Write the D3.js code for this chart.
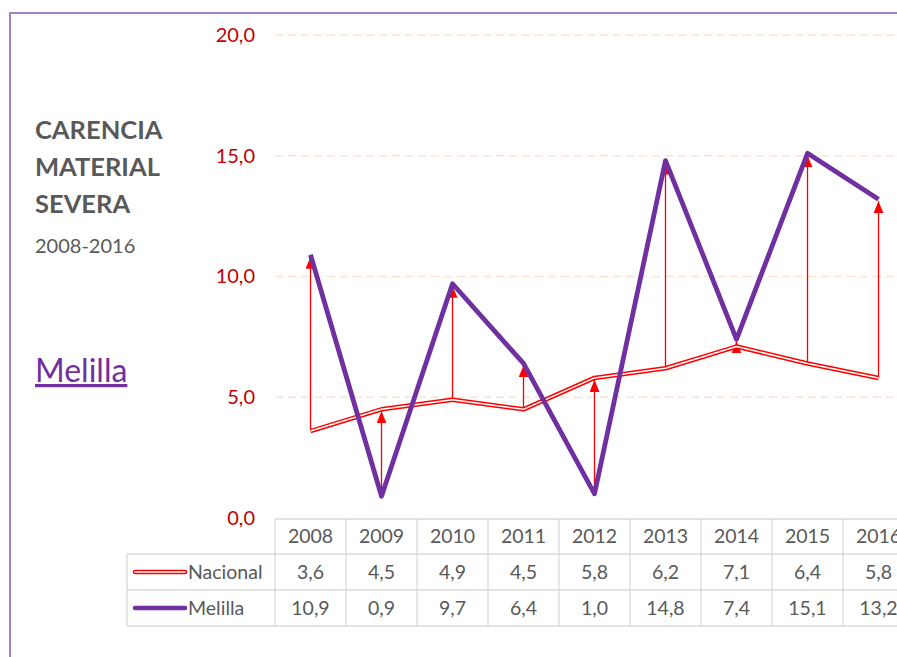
<!DOCTYPE html>
<html>
<head>
<meta charset="utf-8">
<script src="https://cdn.jsdelivr.net/npm/d3@7"></script>
<style>
  body { margin: 0; background: #fff; }
  svg { display: block; font-family: Lato, "Open Sans", sans-serif; }
</style>
</head>
<body>
<svg id="viz"></svg>
<script>
// chart data
var years = ['2008', '2009', '2010', '2011', '2012', '2013', '2014', '2015', '2016'];
var nacional = [3.6, 4.5, 4.9, 4.5, 5.8, 6.2, 7.1, 6.4, 5.8];
var melilla = [10.9, 0.9, 9.7, 6.4, 1.0, 14.8, 7.4, 15.1, 13.2];
var yTicks = [0, 5, 10, 15, 20];

var width = 897, height = 657;
var plotLeft = 275, colW = 71;
var yTop = 35, yBottom = 518;

var fmt = function(v){ return d3.format('.1f')(v).replace('.', ','); };

var svg = d3.select('#viz').attr('width', width).attr('height', height);

// outer frame
svg.append('rect')
   .attr('x', 10).attr('y', 13)
   .attr('width', 900).attr('height', 700)
   .attr('fill', 'none')
   .attr('stroke', '#a27fc9')
   .attr('stroke-width', 2);

var xScale = d3.scaleBand()
               .domain(years)
               .range([plotLeft, plotLeft + colW * years.length]);

var yScale = d3.scaleLinear()
               .domain([0, 20])
               .range([yBottom, yTop]);

// gridlines (dashed)
svg.append('g').selectAll('line')
   .data(yTicks.filter(function(d){ return d > 0; }))
   .enter().append('line')
   .attr('x1', plotLeft).attr('x2', width)
   .attr('y1', function(d){ return yScale(d); })
   .attr('y2', function(d){ return yScale(d); })
   .attr('stroke', '#fbe3d4')
   .attr('stroke-width', 1.5)
   .attr('stroke-dasharray', '8,5');

// y labels
var yAxis = d3.axisLeft(yScale).tickValues(yTicks).tickFormat(fmt).tickSize(0).tickPadding(0);
var ya = svg.append('g').attr('transform', 'translate(255,0)').call(yAxis);
ya.select('.domain').remove();
ya.selectAll('text')
  .attr('fill', '#c00000')
  .attr('font-size', 20)
  .attr('font-family', 'Lato, "Open Sans", sans-serif');

// arrows (from lower to higher value)
var defs = svg.append('defs');
defs.append('marker')
    .attr('id', 'arrow')
    .attr('viewBox', '0 0 10 12')
    .attr('refX', 5).attr('refY', 0)
    .attr('markerWidth', 10).attr('markerHeight', 12)
    .attr('markerUnits', 'userSpaceOnUse')
    .attr('orient', '0')
    .append('path')
    .attr('d', 'M0,12 L5,0 L10,12 Z')
    .attr('fill', '#ff0000');

svg.append('g').selectAll('line')
   .data(years)
   .enter().append('line')
   .attr('x1', function(d){ return xScale(d) + xScale.bandwidth() / 2; })
   .attr('x2', function(d){ return xScale(d) + xScale.bandwidth() / 2; })
   .attr('y1', function(d, i){ return yScale(Math.min(nacional[i], melilla[i])); })
   .attr('y2', function(d, i){ return yScale(Math.max(nacional[i], melilla[i])) + 2; })
   .attr('stroke', '#ff0000')
   .attr('stroke-width', 1.3)
   .attr('marker-end', 'url(#arrow)');

var line = d3.line()
             .x(function(d, i){ return xScale(years[i]) + xScale.bandwidth() / 2; })
             .y(function(d){ return yScale(d); });

// Nacional: double line
svg.append('path').datum(nacional)
   .attr('d', line).attr('fill', 'none')
   .attr('stroke', '#ff0000').attr('stroke-width', 4.5)
   .attr('stroke-linejoin', 'round');
svg.append('path').datum(nacional)
   .attr('d', line).attr('fill', 'none')
   .attr('stroke', '#ffffff').attr('stroke-width', 1.5)
   .attr('stroke-linejoin', 'round');

// Melilla
svg.append('path').datum(melilla)
   .attr('d', line).attr('fill', 'none')
   .attr('stroke', '#7030a0').attr('stroke-width', 4.8)
   .attr('stroke-linejoin', 'round');

// data table
var rowTop = 519, rowH = [35, 36, 36];
var tableLeft = 127;
var grid = svg.append('g').attr('stroke', '#d9d9d9').attr('stroke-width', 1.3);
var r1 = rowTop + rowH[0], r2 = r1 + rowH[1], r3 = r2 + rowH[2];
grid.append('line').attr('x1', plotLeft).attr('x2', width).attr('y1', rowTop).attr('y2', rowTop);
[r1, r2, r3].forEach(function(y){
  grid.append('line').attr('x1', tableLeft).attr('x2', width).attr('y1', y).attr('y2', y);
});
grid.append('line').attr('x1', tableLeft).attr('x2', tableLeft).attr('y1', r1).attr('y2', r3);
grid.selectAll('.vl').data(years).enter().append('line')
    .attr('x1', function(d){ return xScale(d); })
    .attr('x2', function(d){ return xScale(d); })
    .attr('y1', rowTop).attr('y2', r3);

var cellText = svg.append('g')
   .attr('fill', '#595959').attr('font-size', 19.5).attr('text-anchor', 'middle');
cellText.selectAll('.yr').data(years).enter().append('text')
   .attr('x', function(d){ return xScale(d) + xScale.bandwidth() / 2; })
   .attr('y', rowTop + 24).text(function(d){ return d; });
cellText.selectAll('.nc').data(nacional).enter().append('text')
   .attr('x', function(d, i){ return xScale(years[i]) + xScale.bandwidth() / 2; })
   .attr('y', r1 + 25).text(fmt);
cellText.selectAll('.ml').data(melilla).enter().append('text')
   .attr('x', function(d, i){ return xScale(years[i]) + xScale.bandwidth() / 2; })
   .attr('y', r2 + 25).text(fmt);

// legend keys in table
var ny = r1 + rowH[1] / 2, my = r2 + rowH[2] / 2;
svg.append('line').attr('x1', 135).attr('x2', 185).attr('y1', ny).attr('y2', ny)
   .attr('stroke', '#ff0000').attr('stroke-width', 4.5).attr('stroke-linecap', 'round');
svg.append('line').attr('x1', 135).attr('x2', 185).attr('y1', ny).attr('y2', ny)
   .attr('stroke', '#fff').attr('stroke-width', 1.5).attr('stroke-linecap', 'round');
svg.append('line').attr('x1', 135).attr('x2', 185).attr('y1', my).attr('y2', my)
   .attr('stroke', '#7030a0').attr('stroke-width', 4.5).attr('stroke-linecap', 'round');
svg.append('text').attr('x', 188).attr('y', r1 + 25)
   .attr('fill', '#595959').attr('font-size', 19.5).text('Nacional');
svg.append('text').attr('x', 188).attr('y', r2 + 25)
   .attr('fill', '#595959').attr('font-size', 19.5).text('Melilla');

// title block
var title = svg.append('text').attr('x', 35).attr('fill', '#595959')
   .attr('font-size', 25.5).attr('font-weight', 'bold');
['CARENCIA', 'MATERIAL', 'SEVERA'].forEach(function(t, i){
  title.append('tspan').attr('x', 35).attr('y', 139 + i * 37).text(t);
});
svg.append('text').attr('x', 35).attr('y', 253)
   .attr('fill', '#595959').attr('font-size', 20).text('2008-2016');
svg.append('text').attr('x', 35).attr('y', 382)
   .attr('fill', '#7030a0').attr('font-size', 32)
   .attr('text-decoration', 'underline').text('Melilla');
</script>
</body>
</html>
